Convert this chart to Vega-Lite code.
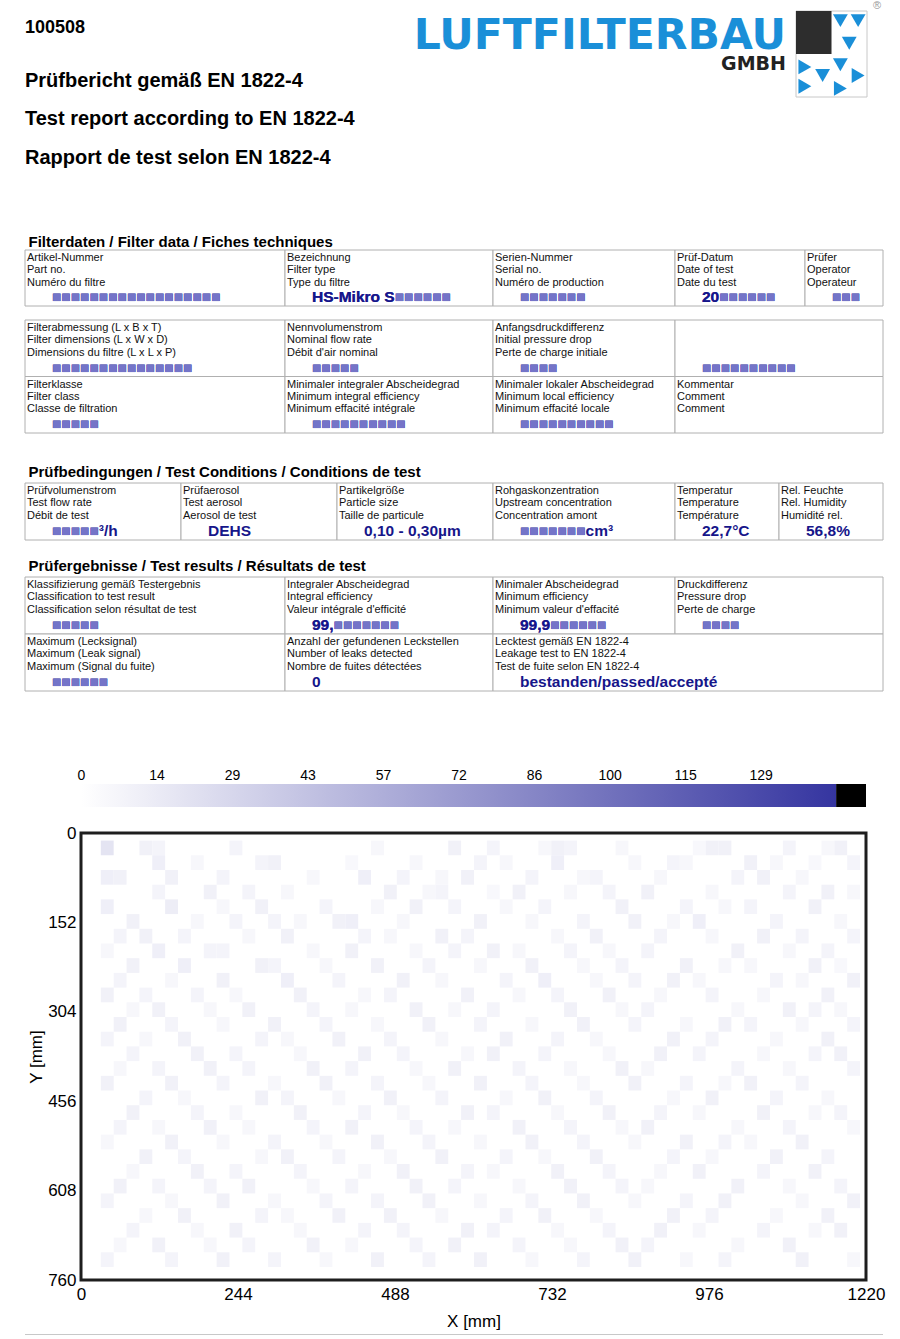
{
"$schema": "https://vega.github.io/schema/vega-lite/v6.json",
"background": "white",
"padding": {"left": 24, "top": 0, "right": 10, "bottom": 0},
"spacing": 0,
"config": {
 "view": {"stroke": null},
 "font": "Liberation Sans",
 "title": {"anchor": "start", "fontSize": 15, "fontWeight": "bold", "font": "Liberation Sans", "color": "#000000", "offset": 3, "dx": 4},
 "axis": {"labelFont": "Liberation Sans", "titleFont": "Liberation Sans", "labelColor": "#000000", "titleColor": "#000000", "grid": false, "domain": false, "ticks": false}
},
"datasets": {
 "head": [
  {"k": "reg", "row": 0, "col": 2, "t": "®"},
  {"k": "id", "row": 1, "col": 0, "t": "100508"},
  {"k": "logo", "row": 2, "col": 1, "t": "LUFTFILTERBAU"},
  {"k": "gmbh", "row": 3, "col": 1, "t": "GMBH"},
  {"k": "title", "row": 4, "col": 0, "t": "Prüfbericht gemäß EN 1822-4"},
  {"k": "title", "row": 5, "col": 0, "t": "Test report according to EN 1822-4"},
  {"k": "title", "row": 6, "col": 0, "t": "Rapport de test selon EN 1822-4"}
 ],
 "logo": [
  {"gx": 0, "gx2": 4, "gy": 0, "gy2": 4, "part": "frame"},
  {"gx": 0, "gx2": 2, "gy": 0, "gy2": 2, "part": "dark"},
  {"gx": 2.5, "gy": 0.45, "part": "down"},
  {"gx": 3.5, "gy": 0.45, "part": "down"},
  {"gx": 3.0, "gy": 1.5, "part": "down"},
  {"gx": 0.5, "gy": 2.6, "part": "right"},
  {"gx": 0.5, "gy": 3.5, "part": "right"},
  {"gx": 1.5, "gy": 3.0, "part": "down"},
  {"gx": 2.5, "gy": 2.5, "part": "down"},
  {"gx": 3.5, "gy": 3.0, "part": "right"},
  {"gx": 2.5, "gy": 3.6, "part": "right"}
 ],
 "t1": [
  {"r": 0, "c": 0, "e": 1, "l": "Artikel-Nummer\nPart no.\nNuméro du filtre", "v": "■■■■■■■■■■■■■■■■■■", "b": "■■■■■■■■■■■■■■■■■■", "p": ""},
  {"r": 0, "c": 1, "e": 2, "l": "Bezeichnung\nFilter type\nType du filtre", "v": "HS-Mikro S■■■■■■", "b": "HS-Mikro S■■■■■■", "p": "HS-Mikro S"},
  {"r": 0, "c": 2, "e": 3, "l": "Serien-Nummer\nSerial no.\nNuméro de production", "v": "■■■■■■■", "b": "■■■■■■■", "p": ""},
  {"r": 0, "c": 3, "e": 4, "l": "Prüf-Datum\nDate of test\nDate du test", "v": "20■■■■■■", "b": "20■■■■■■", "p": "20"},
  {"r": 0, "c": 4, "e": 5, "l": "Prüfer\nOperator\nOperateur", "v": "■■■", "b": "■■■", "p": ""}
 ],
 "t2": [
  {"r": 0, "c": 0, "e": 1, "l": "Filterabmessung (L x B x T)\nFilter dimensions (L x W x D)\nDimensions du filtre (L x L x P)", "v": "■■■■■■■■■■■■■■■", "b": "■■■■■■■■■■■■■■■", "p": ""},
  {"r": 0, "c": 1, "e": 2, "l": "Nennvolumenstrom\nNominal flow rate\nDébit d'air nominal", "v": "■■■■■", "b": "■■■■■", "p": ""},
  {"r": 0, "c": 2, "e": 3, "l": "Anfangsdruckdifferenz\nInitial pressure drop\nPerte de charge initiale", "v": "■■■■", "b": "■■■■", "p": ""},
  {"r": 0, "c": 3, "e": 4, "l": "", "v": "■■■■■■■■■■", "b": "■■■■■■■■■■", "p": ""},
  {"r": 1, "c": 0, "e": 1, "l": "Filterklasse\nFilter class\nClasse de filtration", "v": "■■■■■", "b": "■■■■■", "p": ""},
  {"r": 1, "c": 1, "e": 2, "l": "Minimaler integraler Abscheidegrad\nMinimum integral efficiency\nMinimum effacité intégrale", "v": "■■■■■■■■■■", "b": "■■■■■■■■■■", "p": ""},
  {"r": 1, "c": 2, "e": 3, "l": "Minimaler lokaler Abscheidegrad\nMinimum local efficiency\nMinimum effacité locale", "v": "■■■■■■■■■■", "b": "■■■■■■■■■■", "p": ""},
  {"r": 1, "c": 3, "e": 4, "l": "Kommentar\nComment\nComment", "v": "", "b": "", "p": ""}
 ],
 "t3": [
  {"r": 0, "c": 0, "e": 1, "l": "Prüfvolumenstrom\nTest flow rate\nDébit de test", "v": "■■■■■³/h", "b": "■■■■■", "p": ""},
  {"r": 0, "c": 1, "e": 2, "l": "Prüfaerosol\nTest aerosol\nAerosol de test", "v": "DEHS", "b": "", "p": ""},
  {"r": 0, "c": 2, "e": 3, "l": "Partikelgröße\nParticle size\nTaille de particule", "v": "0,10 - 0,30µm", "b": "", "p": ""},
  {"r": 0, "c": 3, "e": 4, "l": "Rohgaskonzentration\nUpstream concentration\nConcentration amont", "v": "■■■■■■■cm³", "b": "■■■■■■■", "p": ""},
  {"r": 0, "c": 4, "e": 5, "l": "Temperatur\nTemperature\nTempérature", "v": "22,7°C", "b": "", "p": ""},
  {"r": 0, "c": 5, "e": 6, "l": "Rel. Feuchte\nRel. Humidity\nHumidité rel.", "v": "56,8%", "b": "", "p": ""}
 ],
 "t4": [
  {"r": 0, "c": 0, "e": 1, "l": "Klassifizierung gemäß Testergebnis\nClassification to test result\nClassification selon résultat de test", "v": "■■■■■", "b": "■■■■■", "p": ""},
  {"r": 0, "c": 1, "e": 2, "l": "Integraler Abscheidegrad\nIntegral efficiency\nValeur intégrale d'efficité", "v": "99,■■■■■■■", "b": "99,■■■■■■■", "p": "99,"},
  {"r": 0, "c": 2, "e": 3, "l": "Minimaler Abscheidegrad\nMinimum efficiency\nMinimum valeur d'effacité", "v": "99,9■■■■■■", "b": "99,9■■■■■■", "p": "99,9"},
  {"r": 0, "c": 3, "e": 4, "l": "Druckdifferenz\nPressure drop\nPerte de charge", "v": "■■■■", "b": "■■■■", "p": ""},
  {"r": 1, "c": 0, "e": 1, "l": "Maximum (Lecksignal)\nMaximum (Leak signal)\nMaximum (Signal du fuite)", "v": "■■■■■■", "b": "■■■■■■", "p": ""},
  {"r": 1, "c": 1, "e": 2, "l": "Anzahl der gefundenen Leckstellen\nNumber of leaks detected\nNombre de fuites détectées", "v": "0", "b": "", "p": ""},
  {"r": 1, "c": 2, "e": 4, "l": "Lecktest gemäß EN 1822-4\nLeakage test to EN 1822-4\nTest de fuite selon EN 1822-4", "v": "bestanden/passed/accepté", "b": "", "p": ""}
 ],
 "cbar": [
  {"a": 0, "b": 143.33, "p": "scale"},
  {"a": 143.33, "b": 149, "p": "over"}
 ],
 "heat": [
{"x":30,"y":12,"v":19},{"x":90,"y":12,"v":10},{"x":110,"y":12,"v":8},{"x":230,"y":12,"v":8},{"x":450,"y":12,"v":6},{"x":570,"y":12,"v":10},{"x":630,"y":12,"v":8},{"x":710,"y":12,"v":6},{"x":730,"y":12,"v":10},{"x":750,"y":12,"v":8},{"x":830,"y":12,"v":6},{"x":950,"y":12,"v":5},{"x":970,"y":12,"v":10},{"x":990,"y":12,"v":10},{"x":1090,"y":12,"v":8},{"x":1150,"y":12,"v":6},{"x":1170,"y":12,"v":10},
{"x":110,"y":37,"v":11},{"x":170,"y":37,"v":6},{"x":270,"y":37,"v":8},{"x":290,"y":37,"v":10},{"x":410,"y":37,"v":5},{"x":510,"y":37,"v":6},{"x":610,"y":37,"v":8},{"x":650,"y":37,"v":6},{"x":730,"y":37,"v":11},{"x":850,"y":37,"v":6},{"x":910,"y":37,"v":8},{"x":930,"y":37,"v":6},{"x":1030,"y":37,"v":10},{"x":1070,"y":37,"v":6},{"x":1130,"y":37,"v":5},{"x":1190,"y":37,"v":8},
{"x":30,"y":62,"v":11},{"x":50,"y":62,"v":10},{"x":130,"y":62,"v":10},{"x":210,"y":62,"v":8},{"x":350,"y":62,"v":6},{"x":430,"y":62,"v":11},{"x":490,"y":62,"v":8},{"x":550,"y":62,"v":6},{"x":590,"y":62,"v":10},{"x":690,"y":62,"v":8},{"x":770,"y":62,"v":6},{"x":790,"y":62,"v":8},{"x":890,"y":62,"v":6},{"x":1010,"y":62,"v":8},{"x":1050,"y":62,"v":10},{"x":1110,"y":62,"v":6},
{"x":110,"y":87,"v":8},{"x":190,"y":87,"v":10},{"x":250,"y":87,"v":8},{"x":310,"y":87,"v":6},{"x":470,"y":87,"v":10},{"x":530,"y":87,"v":6},{"x":550,"y":87,"v":8},{"x":630,"y":87,"v":5},{"x":670,"y":87,"v":10},{"x":750,"y":87,"v":6},{"x":810,"y":87,"v":8},{"x":870,"y":87,"v":10},{"x":970,"y":87,"v":6},{"x":1090,"y":87,"v":8},{"x":1150,"y":87,"v":10},{"x":1190,"y":87,"v":6},
{"x":30,"y":112,"v":11},{"x":130,"y":112,"v":13},{"x":210,"y":112,"v":6},{"x":270,"y":112,"v":10},{"x":370,"y":112,"v":8},{"x":450,"y":112,"v":6},{"x":510,"y":112,"v":10},{"x":570,"y":112,"v":8},{"x":650,"y":112,"v":6},{"x":710,"y":112,"v":8},{"x":830,"y":112,"v":10},{"x":930,"y":112,"v":8},{"x":990,"y":112,"v":6},{"x":1030,"y":112,"v":8},{"x":1130,"y":112,"v":10},
{"x":70,"y":137,"v":10},{"x":170,"y":137,"v":6},{"x":230,"y":137,"v":8},{"x":290,"y":137,"v":8},{"x":330,"y":137,"v":6},{"x":390,"y":137,"v":10},{"x":410,"y":137,"v":11},{"x":490,"y":137,"v":6},{"x":610,"y":137,"v":10},{"x":690,"y":137,"v":6},{"x":770,"y":137,"v":8},{"x":850,"y":137,"v":10},{"x":910,"y":137,"v":6},{"x":950,"y":137,"v":11},{"x":1070,"y":137,"v":8},{"x":1170,"y":137,"v":6},
{"x":50,"y":162,"v":8},{"x":90,"y":162,"v":10},{"x":150,"y":162,"v":8},{"x":250,"y":162,"v":6},{"x":310,"y":162,"v":10},{"x":430,"y":162,"v":8},{"x":470,"y":162,"v":6},{"x":550,"y":162,"v":10},{"x":590,"y":162,"v":8},{"x":730,"y":162,"v":6},{"x":790,"y":162,"v":10},{"x":890,"y":162,"v":8},{"x":970,"y":162,"v":6},{"x":1050,"y":162,"v":10},{"x":1110,"y":162,"v":8},{"x":1190,"y":162,"v":8},
{"x":30,"y":187,"v":6},{"x":110,"y":187,"v":11},{"x":190,"y":187,"v":8},{"x":210,"y":187,"v":8},{"x":350,"y":187,"v":6},{"x":410,"y":187,"v":10},{"x":510,"y":187,"v":6},{"x":570,"y":187,"v":8},{"x":630,"y":187,"v":10},{"x":670,"y":187,"v":6},{"x":750,"y":187,"v":8},{"x":810,"y":187,"v":6},{"x":870,"y":187,"v":8},{"x":1010,"y":187,"v":10},{"x":1090,"y":187,"v":6},{"x":1150,"y":187,"v":8},
{"x":70,"y":212,"v":10},{"x":150,"y":212,"v":11},{"x":270,"y":212,"v":10},{"x":290,"y":212,"v":8},{"x":370,"y":212,"v":6},{"x":450,"y":212,"v":10},{"x":530,"y":212,"v":8},{"x":610,"y":212,"v":6},{"x":690,"y":212,"v":10},{"x":770,"y":212,"v":6},{"x":830,"y":212,"v":8},{"x":930,"y":212,"v":10},{"x":990,"y":212,"v":6},{"x":1030,"y":212,"v":6},{"x":1130,"y":212,"v":10},{"x":1170,"y":212,"v":5},
{"x":50,"y":237,"v":8},{"x":130,"y":237,"v":6},{"x":210,"y":237,"v":10},{"x":310,"y":237,"v":11},{"x":390,"y":237,"v":8},{"x":490,"y":237,"v":10},{"x":550,"y":237,"v":6},{"x":650,"y":237,"v":8},{"x":710,"y":237,"v":11},{"x":790,"y":237,"v":6},{"x":850,"y":237,"v":8},{"x":910,"y":237,"v":10},{"x":950,"y":237,"v":6},{"x":1070,"y":237,"v":8},{"x":1110,"y":237,"v":6},{"x":1190,"y":237,"v":10},
{"x":30,"y":262,"v":10},{"x":90,"y":262,"v":8},{"x":170,"y":262,"v":8},{"x":230,"y":262,"v":6},{"x":330,"y":262,"v":10},{"x":430,"y":262,"v":6},{"x":470,"y":262,"v":8},{"x":590,"y":262,"v":10},{"x":670,"y":262,"v":6},{"x":730,"y":262,"v":8},{"x":810,"y":262,"v":10},{"x":890,"y":262,"v":6},{"x":970,"y":262,"v":8},{"x":1050,"y":262,"v":6},{"x":1150,"y":262,"v":10},
{"x":70,"y":287,"v":6},{"x":110,"y":287,"v":10},{"x":190,"y":287,"v":6},{"x":250,"y":287,"v":10},{"x":350,"y":287,"v":8},{"x":410,"y":287,"v":6},{"x":510,"y":287,"v":10},{"x":570,"y":287,"v":6},{"x":630,"y":287,"v":8},{"x":750,"y":287,"v":10},{"x":830,"y":287,"v":6},{"x":870,"y":287,"v":8},{"x":1010,"y":287,"v":6},{"x":1090,"y":287,"v":10},{"x":1130,"y":287,"v":8},{"x":1170,"y":287,"v":6},
{"x":50,"y":312,"v":10},{"x":130,"y":312,"v":8},{"x":210,"y":312,"v":6},{"x":290,"y":312,"v":10},{"x":370,"y":312,"v":8},{"x":450,"y":312,"v":6},{"x":530,"y":312,"v":10},{"x":610,"y":312,"v":8},{"x":690,"y":312,"v":6},{"x":770,"y":312,"v":10},{"x":850,"y":312,"v":8},{"x":930,"y":312,"v":6},{"x":990,"y":312,"v":10},{"x":1030,"y":312,"v":8},{"x":1110,"y":312,"v":6},{"x":1190,"y":312,"v":8},
{"x":30,"y":337,"v":8},{"x":90,"y":337,"v":6},{"x":150,"y":337,"v":10},{"x":270,"y":337,"v":8},{"x":310,"y":337,"v":6},{"x":390,"y":337,"v":10},{"x":470,"y":337,"v":8},{"x":550,"y":337,"v":6},{"x":650,"y":337,"v":10},{"x":730,"y":337,"v":8},{"x":790,"y":337,"v":6},{"x":910,"y":337,"v":10},{"x":970,"y":337,"v":8},{"x":1070,"y":337,"v":6},{"x":1150,"y":337,"v":10},
{"x":70,"y":362,"v":8},{"x":170,"y":362,"v":10},{"x":230,"y":362,"v":8},{"x":330,"y":362,"v":6},{"x":430,"y":362,"v":10},{"x":490,"y":362,"v":8},{"x":590,"y":362,"v":6},{"x":630,"y":362,"v":10},{"x":710,"y":362,"v":8},{"x":810,"y":362,"v":6},{"x":890,"y":362,"v":10},{"x":950,"y":362,"v":8},{"x":1050,"y":362,"v":6},{"x":1130,"y":362,"v":8},{"x":1170,"y":362,"v":10},
{"x":50,"y":387,"v":6},{"x":110,"y":387,"v":8},{"x":190,"y":387,"v":10},{"x":250,"y":387,"v":8},{"x":350,"y":387,"v":10},{"x":410,"y":387,"v":8},{"x":510,"y":387,"v":6},{"x":570,"y":387,"v":10},{"x":670,"y":387,"v":8},{"x":750,"y":387,"v":6},{"x":830,"y":387,"v":10},{"x":870,"y":387,"v":6},{"x":1010,"y":387,"v":8},{"x":1090,"y":387,"v":6},{"x":1190,"y":387,"v":8},
{"x":30,"y":412,"v":10},{"x":130,"y":412,"v":10},{"x":210,"y":412,"v":8},{"x":290,"y":412,"v":6},{"x":370,"y":412,"v":10},{"x":450,"y":412,"v":8},{"x":530,"y":412,"v":6},{"x":610,"y":412,"v":10},{"x":690,"y":412,"v":8},{"x":770,"y":412,"v":6},{"x":850,"y":412,"v":10},{"x":930,"y":412,"v":8},{"x":990,"y":412,"v":6},{"x":1030,"y":412,"v":10},{"x":1110,"y":412,"v":8},
{"x":90,"y":437,"v":8},{"x":150,"y":437,"v":6},{"x":270,"y":437,"v":10},{"x":310,"y":437,"v":8},{"x":390,"y":437,"v":6},{"x":470,"y":437,"v":10},{"x":550,"y":437,"v":8},{"x":650,"y":437,"v":6},{"x":710,"y":437,"v":10},{"x":790,"y":437,"v":8},{"x":910,"y":437,"v":6},{"x":970,"y":437,"v":10},{"x":1070,"y":437,"v":8},{"x":1150,"y":437,"v":6},
{"x":70,"y":462,"v":10},{"x":170,"y":462,"v":8},{"x":230,"y":462,"v":6},{"x":330,"y":462,"v":10},{"x":430,"y":462,"v":8},{"x":490,"y":462,"v":6},{"x":590,"y":462,"v":10},{"x":630,"y":462,"v":8},{"x":730,"y":462,"v":6},{"x":810,"y":462,"v":10},{"x":890,"y":462,"v":8},{"x":950,"y":462,"v":6},{"x":1050,"y":462,"v":10},{"x":1130,"y":462,"v":6},{"x":1170,"y":462,"v":8},
{"x":50,"y":487,"v":8},{"x":110,"y":487,"v":6},{"x":190,"y":487,"v":10},{"x":250,"y":487,"v":6},{"x":350,"y":487,"v":8},{"x":410,"y":487,"v":10},{"x":510,"y":487,"v":8},{"x":570,"y":487,"v":6},{"x":670,"y":487,"v":10},{"x":750,"y":487,"v":8},{"x":830,"y":487,"v":6},{"x":870,"y":487,"v":10},{"x":1010,"y":487,"v":6},{"x":1090,"y":487,"v":8},{"x":1190,"y":487,"v":6},
{"x":30,"y":512,"v":6},{"x":130,"y":512,"v":10},{"x":210,"y":512,"v":6},{"x":290,"y":512,"v":8},{"x":370,"y":512,"v":6},{"x":450,"y":512,"v":10},{"x":530,"y":512,"v":8},{"x":610,"y":512,"v":6},{"x":690,"y":512,"v":10},{"x":770,"y":512,"v":8},{"x":850,"y":512,"v":6},{"x":930,"y":512,"v":10},{"x":990,"y":512,"v":8},{"x":1030,"y":512,"v":6},{"x":1110,"y":512,"v":10},
{"x":90,"y":537,"v":10},{"x":150,"y":537,"v":8},{"x":270,"y":537,"v":6},{"x":310,"y":537,"v":10},{"x":390,"y":537,"v":8},{"x":470,"y":537,"v":6},{"x":550,"y":537,"v":10},{"x":650,"y":537,"v":8},{"x":710,"y":537,"v":6},{"x":790,"y":537,"v":10},{"x":910,"y":537,"v":8},{"x":970,"y":537,"v":6},{"x":1070,"y":537,"v":10},{"x":1150,"y":537,"v":8},
{"x":70,"y":562,"v":6},{"x":170,"y":562,"v":10},{"x":230,"y":562,"v":8},{"x":330,"y":562,"v":8},{"x":430,"y":562,"v":6},{"x":490,"y":562,"v":10},{"x":590,"y":562,"v":8},{"x":630,"y":562,"v":6},{"x":730,"y":562,"v":10},{"x":810,"y":562,"v":8},{"x":890,"y":562,"v":6},{"x":950,"y":562,"v":10},{"x":1050,"y":562,"v":8},{"x":1130,"y":562,"v":10},
{"x":50,"y":587,"v":10},{"x":110,"y":587,"v":8},{"x":190,"y":587,"v":8},{"x":250,"y":587,"v":10},{"x":350,"y":587,"v":6},{"x":410,"y":587,"v":8},{"x":510,"y":587,"v":10},{"x":570,"y":587,"v":8},{"x":670,"y":587,"v":6},{"x":750,"y":587,"v":10},{"x":830,"y":587,"v":8},{"x":870,"y":587,"v":6},{"x":1010,"y":587,"v":10},{"x":1090,"y":587,"v":6},{"x":1170,"y":587,"v":8},
{"x":30,"y":612,"v":8},{"x":130,"y":612,"v":6},{"x":210,"y":612,"v":10},{"x":290,"y":612,"v":6},{"x":370,"y":612,"v":8},{"x":450,"y":612,"v":8},{"x":530,"y":612,"v":10},{"x":610,"y":612,"v":6},{"x":690,"y":612,"v":8},{"x":770,"y":612,"v":10},{"x":850,"y":612,"v":6},{"x":930,"y":612,"v":8},{"x":990,"y":612,"v":10},{"x":1110,"y":612,"v":6},{"x":1190,"y":612,"v":10},
{"x":90,"y":637,"v":6},{"x":150,"y":637,"v":10},{"x":270,"y":637,"v":8},{"x":310,"y":637,"v":6},{"x":390,"y":637,"v":10},{"x":470,"y":637,"v":10},{"x":550,"y":637,"v":6},{"x":650,"y":637,"v":8},{"x":710,"y":637,"v":10},{"x":790,"y":637,"v":6},{"x":910,"y":637,"v":10},{"x":970,"y":637,"v":8},{"x":1070,"y":637,"v":6},{"x":1150,"y":637,"v":10},
{"x":70,"y":662,"v":8},{"x":170,"y":662,"v":6},{"x":230,"y":662,"v":10},{"x":330,"y":662,"v":6},{"x":430,"y":662,"v":8},{"x":490,"y":662,"v":8},{"x":590,"y":662,"v":10},{"x":630,"y":662,"v":8},{"x":730,"y":662,"v":6},{"x":810,"y":662,"v":8},{"x":890,"y":662,"v":10},{"x":950,"y":662,"v":6},{"x":1050,"y":662,"v":8},{"x":1130,"y":662,"v":6},{"x":1170,"y":662,"v":10},
{"x":50,"y":687,"v":6},{"x":110,"y":687,"v":10},{"x":190,"y":687,"v":6},{"x":250,"y":687,"v":8},{"x":350,"y":687,"v":10},{"x":410,"y":687,"v":6},{"x":510,"y":687,"v":8},{"x":570,"y":687,"v":10},{"x":670,"y":687,"v":8},{"x":750,"y":687,"v":6},{"x":830,"y":687,"v":10},{"x":870,"y":687,"v":8},{"x":1010,"y":687,"v":6},{"x":1090,"y":687,"v":10},
{"x":30,"y":712,"v":8},{"x":130,"y":712,"v":8},{"x":210,"y":712,"v":10},{"x":290,"y":712,"v":8},{"x":370,"y":712,"v":6},{"x":450,"y":712,"v":10},{"x":530,"y":712,"v":8},{"x":610,"y":712,"v":10},{"x":690,"y":712,"v":6},{"x":770,"y":712,"v":8},{"x":850,"y":712,"v":10},{"x":930,"y":712,"v":6},{"x":990,"y":712,"v":8},{"x":1110,"y":712,"v":10},{"x":1190,"y":712,"v":6}
 ]
},
"vconcat": [
 {
  "width": 858, "height": 233,
  "layer": [
   {
    "data": {"name": "head"},
    "encoding": {
     "x": {"field": "col", "type": "quantitative", "scale": {"domain": [0, 1, 2], "range": [0, 761, 852], "nice": false, "zero": false}, "axis": null},
     "y": {"field": "row", "type": "quantitative", "scale": {"domain": [0, 1, 2, 3, 4, 5, 6], "range": [8, 32, 48, 69, 86, 124, 163], "nice": false, "zero": false}, "axis": null},
     "text": {"field": "t"}
    },
    "layer": [
     {"transform": [{"filter": "datum.k == 'id'"}], "mark": {"type": "text", "align": "left", "baseline": "alphabetic", "fontSize": 18, "fontWeight": "bold", "color": "#000000"}},
     {"transform": [{"filter": "datum.k == 'title'"}], "mark": {"type": "text", "align": "left", "baseline": "alphabetic", "fontSize": 20, "fontWeight": "bold", "color": "#000000"}},
     {"transform": [{"filter": "datum.k == 'logo'"}], "mark": {"type": "text", "align": "right", "baseline": "alphabetic", "fontSize": 42.5, "fontWeight": "bold", "font": "DejaVu Sans", "color": "#1a8fd8"}},
     {"transform": [{"filter": "datum.k == 'gmbh'"}], "mark": {"type": "text", "align": "right", "baseline": "alphabetic", "fontSize": 19, "fontWeight": "bold", "font": "DejaVu Sans", "color": "#222222"}},
     {"transform": [{"filter": "datum.k == 'reg'"}], "mark": {"type": "text", "align": "center", "baseline": "alphabetic", "fontSize": 11, "color": "#999999"}}
    ]
   },
   {
    "data": {"name": "logo"},
    "encoding": {
     "x": {"field": "gx", "type": "quantitative", "scale": {"domain": [0, 4], "range": [771, 842], "nice": false, "zero": false}, "axis": null},
     "y": {"field": "gy", "type": "quantitative", "scale": {"domain": [0, 4], "range": [10, 96], "nice": false, "zero": false}, "axis": null}
    },
    "layer": [
     {"transform": [{"filter": "datum.part == 'frame'"}], "mark": {"type": "rect", "fill": "#ffffff", "stroke": "#c8c8c8", "strokeWidth": 1}, "encoding": {"x2": {"field": "gx2"}, "y2": {"field": "gy2"}}},
     {"transform": [{"filter": "datum.part == 'dark'"}], "mark": {"type": "rect", "fill": "#2d2d2d"}, "encoding": {"x2": {"field": "gx2"}, "y2": {"field": "gy2"}}},
     {"transform": [{"filter": "datum.part == 'down'"}], "mark": {"type": "point", "shape": "triangle-down", "filled": true, "color": "#1a8fd8", "size": 220, "opacity": 1}},
     {"transform": [{"filter": "datum.part == 'right'"}], "mark": {"type": "point", "shape": "triangle-right", "filled": true, "color": "#1a8fd8", "size": 220, "opacity": 1}}
    ]
   }
  ],
  "resolve": {"scale": {"x": "independent", "y": "independent"}}
 },
 {
  "title": {"text": "Filterdaten / Filter data / Fiches techniques", "offset": 0},
  "width": 858, "height": 56,
  "data": {"name": "t1"},
  "encoding": {
   "x": {"field": "c", "type": "quantitative", "scale": {"domain": [0, 1, 2, 3, 4, 5], "range": [0, 260, 468, 650, 780, 858], "nice": false, "zero": false}, "axis": null},
   "y": {"field": "r", "type": "ordinal", "scale": {"paddingInner": 0, "paddingOuter": 0}, "axis": null}
  },
  "layer": [
   {"mark": {"type": "rect", "fill": "#ffffff", "stroke": "#b0b0b0", "strokeWidth": 1}, "encoding": {"x2": {"field": "e"}}},
   {"mark": {"type": "text", "align": "left", "baseline": "top", "lineBreak": "\n", "lineHeight": 12.4, "fontSize": 11, "dx": 2, "dy": 2, "color": "#111111"}, "encoding": {"y": {"field": "r", "type": "ordinal", "bandPosition": 0}, "text": {"field": "l"}}},
   {"mark": {"type": "text", "align": "left", "baseline": "alphabetic", "fontSize": 15.5, "fontWeight": "bold", "dx": 27, "dy": -4, "color": "#16168a"}, "encoding": {"y": {"field": "r", "type": "ordinal", "bandPosition": 1}, "text": {"field": "v"}}},
   {"mark": {"type": "text", "align": "left", "baseline": "alphabetic", "fontSize": 15.5, "fontWeight": "bold", "dx": 27, "dy": -4, "color": "#7474c8"}, "encoding": {"y": {"field": "r", "type": "ordinal", "bandPosition": 1}, "text": {"field": "b"}}},
   {"mark": {"type": "text", "align": "left", "baseline": "alphabetic", "fontSize": 15.5, "fontWeight": "bold", "dx": 27, "dy": -4, "color": "#16168a"}, "encoding": {"y": {"field": "r", "type": "ordinal", "bandPosition": 1}, "text": {"field": "p"}}}
  ]
 },
 {"width": 858, "height": 12, "data": {"values": []}, "mark": "point"},
 {
  "width": 858, "height": 113,
  "data": {"name": "t2"},
  "encoding": {
   "x": {"field": "c", "type": "quantitative", "scale": {"domain": [0, 1, 2, 3, 4], "range": [0, 260, 468, 650, 858], "nice": false, "zero": false}, "axis": null},
   "y": {"field": "r", "type": "ordinal", "scale": {"paddingInner": 0, "paddingOuter": 0}, "axis": null}
  },
  "layer": [
   {"mark": {"type": "rect", "fill": "#ffffff", "stroke": "#b0b0b0", "strokeWidth": 1}, "encoding": {"x2": {"field": "e"}}},
   {"mark": {"type": "text", "align": "left", "baseline": "top", "lineBreak": "\n", "lineHeight": 12.4, "fontSize": 11, "dx": 2, "dy": 2, "color": "#111111"}, "encoding": {"y": {"field": "r", "type": "ordinal", "bandPosition": 0}, "text": {"field": "l"}}},
   {"mark": {"type": "text", "align": "left", "baseline": "alphabetic", "fontSize": 15.5, "fontWeight": "bold", "dx": 27, "dy": -4, "color": "#16168a"}, "encoding": {"y": {"field": "r", "type": "ordinal", "bandPosition": 1}, "text": {"field": "v"}}},
   {"mark": {"type": "text", "align": "left", "baseline": "alphabetic", "fontSize": 15.5, "fontWeight": "bold", "dx": 27, "dy": -4, "color": "#7474c8"}, "encoding": {"y": {"field": "r", "type": "ordinal", "bandPosition": 1}, "text": {"field": "b"}}},
   {"mark": {"type": "text", "align": "left", "baseline": "alphabetic", "fontSize": 15.5, "fontWeight": "bold", "dx": 27, "dy": -4, "color": "#16168a"}, "encoding": {"y": {"field": "r", "type": "ordinal", "bandPosition": 1}, "text": {"field": "p"}}}
  ]
 },
 {"width": 858, "height": 30, "data": {"values": []}, "mark": "point"},
 {
  "title": "Prüfbedingungen / Test Conditions / Conditions de test",
  "width": 858, "height": 57,
  "data": {"name": "t3"},
  "encoding": {
   "x": {"field": "c", "type": "quantitative", "scale": {"domain": [0, 1, 2, 3, 4, 5, 6], "range": [0, 156, 312, 468, 650, 754, 858], "nice": false, "zero": false}, "axis": null},
   "y": {"field": "r", "type": "ordinal", "scale": {"paddingInner": 0, "paddingOuter": 0}, "axis": null}
  },
  "layer": [
   {"mark": {"type": "rect", "fill": "#ffffff", "stroke": "#b0b0b0", "strokeWidth": 1}, "encoding": {"x2": {"field": "e"}}},
   {"mark": {"type": "text", "align": "left", "baseline": "top", "lineBreak": "\n", "lineHeight": 12.4, "fontSize": 11, "dx": 2, "dy": 2, "color": "#111111"}, "encoding": {"y": {"field": "r", "type": "ordinal", "bandPosition": 0}, "text": {"field": "l"}}},
   {"mark": {"type": "text", "align": "left", "baseline": "alphabetic", "fontSize": 15.5, "fontWeight": "bold", "dx": 27, "dy": -4, "color": "#16168a"}, "encoding": {"y": {"field": "r", "type": "ordinal", "bandPosition": 1}, "text": {"field": "v"}}},
   {"mark": {"type": "text", "align": "left", "baseline": "alphabetic", "fontSize": 15.5, "fontWeight": "bold", "dx": 27, "dy": -4, "color": "#7474c8"}, "encoding": {"y": {"field": "r", "type": "ordinal", "bandPosition": 1}, "text": {"field": "b"}}},
   {"mark": {"type": "text", "align": "left", "baseline": "alphabetic", "fontSize": 15.5, "fontWeight": "bold", "dx": 27, "dy": -4, "color": "#16168a"}, "encoding": {"y": {"field": "r", "type": "ordinal", "bandPosition": 1}, "text": {"field": "p"}}}
  ]
 },
 {"width": 858, "height": 17, "data": {"values": []}, "mark": "point"},
 {
  "title": "Prüfergebnisse / Test results / Résultats de test",
  "width": 858, "height": 114,
  "data": {"name": "t4"},
  "encoding": {
   "x": {"field": "c", "type": "quantitative", "scale": {"domain": [0, 1, 2, 3, 4], "range": [0, 260, 468, 650, 858], "nice": false, "zero": false}, "axis": null},
   "y": {"field": "r", "type": "ordinal", "scale": {"paddingInner": 0, "paddingOuter": 0}, "axis": null}
  },
  "layer": [
   {"mark": {"type": "rect", "fill": "#ffffff", "stroke": "#b0b0b0", "strokeWidth": 1}, "encoding": {"x2": {"field": "e"}}},
   {"mark": {"type": "text", "align": "left", "baseline": "top", "lineBreak": "\n", "lineHeight": 12.4, "fontSize": 11, "dx": 2, "dy": 2, "color": "#111111"}, "encoding": {"y": {"field": "r", "type": "ordinal", "bandPosition": 0}, "text": {"field": "l"}}},
   {"mark": {"type": "text", "align": "left", "baseline": "alphabetic", "fontSize": 15.5, "fontWeight": "bold", "dx": 27, "dy": -4, "color": "#16168a"}, "encoding": {"y": {"field": "r", "type": "ordinal", "bandPosition": 1}, "text": {"field": "v"}}},
   {"mark": {"type": "text", "align": "left", "baseline": "alphabetic", "fontSize": 15.5, "fontWeight": "bold", "dx": 27, "dy": -4, "color": "#7474c8"}, "encoding": {"y": {"field": "r", "type": "ordinal", "bandPosition": 1}, "text": {"field": "b"}}},
   {"mark": {"type": "text", "align": "left", "baseline": "alphabetic", "fontSize": 15.5, "fontWeight": "bold", "dx": 27, "dy": -4, "color": "#16168a"}, "encoding": {"y": {"field": "r", "type": "ordinal", "bandPosition": 1}, "text": {"field": "p"}}}
  ]
 },
 {"width": 858, "height": 76, "data": {"values": []}, "mark": "point"},
 {
  "spacing": 0,
  "hconcat": [
   {"width": 1, "height": 1, "data": {"values": []}, "mark": "point"},
   {
    "spacing": 15,
    "vconcat": [
     {
      "width": 785, "height": 23,
      "data": {"name": "cbar"},
      "layer": [
       {
        "transform": [{"filter": "datum.p == 'scale'"}],
        "mark": {"type": "rect", "fill": {"gradient": "linear", "stops": [{"offset": 0, "color": "#ffffff"}, {"offset": 1, "color": "#3535a0"}]}},
        "encoding": {
         "x": {"field": "a", "type": "quantitative", "scale": {"domain": [0, 149], "nice": false, "zero": false}, "axis": {"orient": "top", "values": [0, 14.333, 28.667, 43, 57.333, 71.667, 86, 100.333, 114.667, 129], "format": ".0f", "labelFontSize": 14, "labelPadding": 2, "labelFlush": false, "title": null}},
         "x2": {"field": "b"}
        }
       },
       {
        "transform": [{"filter": "datum.p == 'over'"}],
        "mark": {"type": "rect", "fill": "#000000"},
        "encoding": {
         "x": {"field": "a", "type": "quantitative"},
         "x2": {"field": "b"}
        }
       }
      ]
     },
     {
      "width": 785, "height": 447,
      "view": {"stroke": "#1e1e1e", "strokeWidth": 3},
      "data": {"name": "heat"},
      "mark": {"type": "rect", "binSpacing": 0},
      "encoding": {
       "x": {"field": "x", "type": "quantitative", "bin": {"binned": true, "step": 20}, "scale": {"domain": [0, 1220], "nice": false, "zero": false}, "axis": {"values": [0, 244, 488, 732, 976, 1220], "format": "d", "title": "X [mm]", "labelFontSize": 17, "titleFontSize": 17, "titleFontWeight": "normal", "labelPadding": 6, "titlePadding": 11, "labelFlush": false}},
       "y": {"field": "y", "type": "quantitative", "bin": {"binned": true, "step": 25}, "scale": {"domain": [0, 760], "nice": false, "zero": false, "reverse": true}, "axis": {"values": [0, 152, 304, 456, 608, 760], "format": "d", "title": "Y [mm]", "labelFontSize": 17, "titleFontSize": 17, "titleFontWeight": "normal", "labelPadding": 5, "titlePadding": 2, "labelFlush": false}},
       "color": {"field": "v", "type": "quantitative", "scale": {"domain": [0, 143.33], "range": ["#ffffff", "#3535a0"], "interpolate": "rgb"}, "legend": null}
      }
     }
    ]
   }
  ]
 },
 {"width": 858, "height": 3, "data": {"values": []}, "mark": "point"},
 {"width": 858, "height": 1, "view": {"fill": "#c8c8c8"}, "data": {"values": []}, "mark": "point"}
]
}
